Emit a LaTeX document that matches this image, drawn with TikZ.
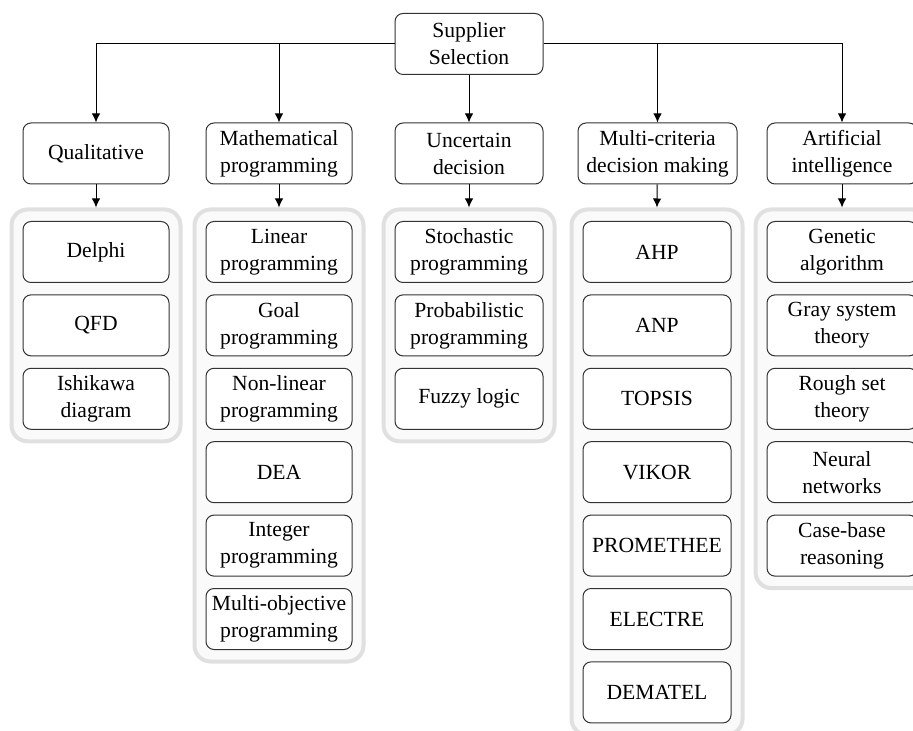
\documentclass[tikz,border=0pt]{standalone}
\usepackage{fontspec}
\setmainfont{Liberation Serif}
\usetikzlibrary{arrows.meta,fit,backgrounds}

\tikzset{
  box/.style={draw=black!80, line width=.5pt, rounded corners=4pt, fill=white,
    minimum width=73pt, minimum height=30.5pt, align=center, inner xsep=1pt,
    font=\fontsize{10.8}{13.5}\selectfont},
  grp/.style={draw=black!12, line width=2pt, fill=black!2, rounded corners=8pt,
    inner xsep=5.5pt, inner ysep=5.75pt},
  arr/.style={-{Latex[length=4.5pt,width=4.2pt]}, line width=.5pt},
}

\begin{document}
\begin{tikzpicture}[x=.5pt,y=-.5pt]
    \useasboundingbox (0,0) rectangle (913,731);

    \node[box, minimum width=74pt] (sup) at (469,44) {Supplier\\Selection};

    \node[box] (qual) at (96,153.5) {Qualitative};
    \node[box] (math) at (279,153.5) {Mathematical\\programming};
    \node[box, minimum width=74pt] (unc) at (469,153.5) {Uncertain\\decision};
    \node[box, minimum width=79.5pt] (mcdm) at (657.5,153.5) {Multi-criteria\\decision making};
    \node[box, minimum width=75pt] (ai) at (842,153.5) {Artificial\\intelligence};

    % methods under each category
    \foreach \t [count=\i] in {Delphi, QFD, Ishikawa\\diagram}
        \node[box] (q\i) at (96,252+73.4*\i-73.4) {\t};
    \foreach \t [count=\i] in {Linear\\programming, Goal\\programming, Non-linear\\programming,
        DEA, Integer\\programming, Multi-objective\\programming}
        \node[box] (m\i) at (279,252+73.4*\i-73.4) {\t};
    \foreach \t [count=\i] in {Stochastic\\programming, Probabilistic\\programming, Fuzzy logic}
        \node[box, minimum width=74pt] (u\i) at (469,252+73.4*\i-73.4) {\t};
    \foreach \t [count=\i] in {AHP, ANP, TOPSIS, VIKOR, PROMETHEE, ELECTRE, DEMATEL}
        \node[box, minimum width=74pt] (c\i) at (657,252+73.4*\i-73.4) {\t};
    \foreach \t [count=\i] in {Genetic\\algorithm, Gray system\\theory, Rough set\\theory,
        Neural\\networks, Case-base\\reasoning}
        \node[box, minimum width=75pt] (a\i) at (842,252+73.4*\i-73.4) {\t};

    \begin{scope}[on background layer]
        \node[grp, fit=(q1)(q3)] (gq) {};
        \node[grp, fit=(m1)(m6)] (gm) {};
        \node[grp, fit=(u1)(u3)] (gu) {};
        \node[grp, fit=(c1)(c7)] (gc) {};
        \node[grp, fit=(a1)(a5)] (ga) {};
    \end{scope}

    \draw[arr] (sup.west) -| (qual);
    \draw[arr] (sup.west) -| (math);
    \draw[arr] (sup) -- (unc);
    \draw[arr] (sup.east) -| (mcdm);
    \draw[arr] (sup.east) -| (ai);

    \draw[arr] (qual) -- (gq.north);
    \draw[arr] (math) -- (gm.north);
    \draw[arr] (unc) -- (gu.north);
    \draw[arr] (mcdm) -- (gc.north);
    \draw[arr] (ai) -- (ga.north);
\end{tikzpicture}
\end{document}
